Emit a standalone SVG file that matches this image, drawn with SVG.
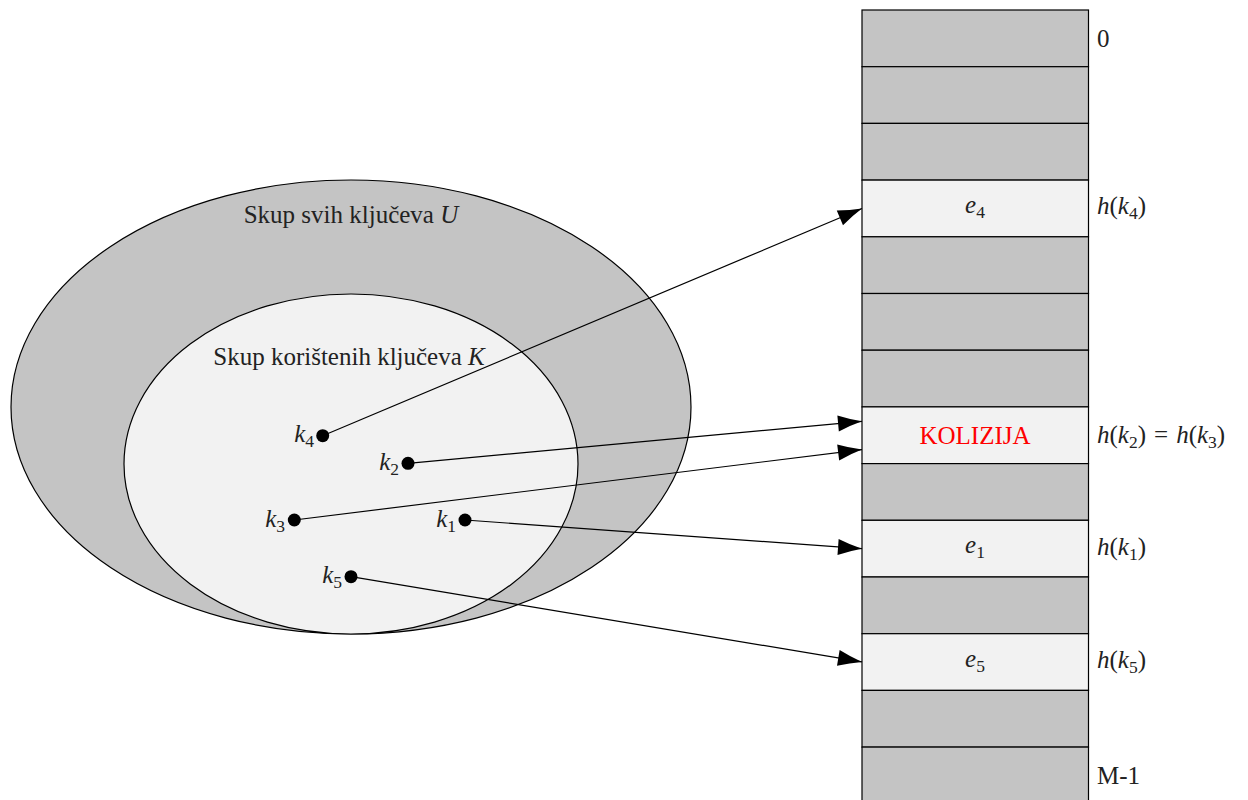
<svg xmlns="http://www.w3.org/2000/svg" width="1248" height="800" viewBox="0 0 1248 800">
<style>
text{font-family:'Liberation Serif',serif;font-size:25px;fill:#222}
.m{font-style:italic}
.s{font-size:17.5px;font-style:normal}
.g{fill:#c4c4c4;stroke:#000;stroke-width:1.2}
.l{fill:#f2f2f2;stroke:#000;stroke-width:1.2}
.c{stroke:#000;stroke-width:1.2;fill:none;marker-end:url(#ah)}
.mid{text-anchor:middle}
.end{text-anchor:end}
</style>
<defs>
<marker id="ah" markerUnits="userSpaceOnUse" markerWidth="30" markerHeight="20" refX="24" refY="8" orient="auto" overflow="visible">
<path d="M0,0 Q12,5 24,8 Q12,11 0,16 Z" fill="#000"/>
</marker>
</defs>
<g id="universe">
<ellipse class="g" cx="351" cy="407" rx="340" ry="227"/>
<text x="351" y="223" class="mid">Skup svih ključeva <tspan class="m">U</tspan></text>
</g>
<g id="used">
<ellipse class="l" cx="351" cy="464" rx="227" ry="170"/>
<text x="349" y="365" class="mid">Skup korištenih ključeva <tspan class="m">K</tspan></text>
</g>
<g id="table">
<rect class="g" x="862" y="10" width="226.5" height="56.7"/>
<rect class="g" x="862" y="66.7" width="226.5" height="56.7"/>
<rect class="g" x="862" y="123.4" width="226.5" height="56.7"/>
<rect class="l" x="862" y="180.1" width="226.5" height="56.7"/>
<rect class="g" x="862" y="236.8" width="226.5" height="56.7"/>
<rect class="g" x="862" y="293.5" width="226.5" height="56.7"/>
<rect class="g" x="862" y="350.2" width="226.5" height="56.7"/>
<rect class="l" x="862" y="406.9" width="226.5" height="56.7"/>
<rect class="g" x="862" y="463.6" width="226.5" height="56.7"/>
<rect class="l" x="862" y="520.3" width="226.5" height="56.7"/>
<rect class="g" x="862" y="577" width="226.5" height="56.7"/>
<rect class="l" x="862" y="633.7" width="226.5" height="56.7"/>
<rect class="g" x="862" y="690.4" width="226.5" height="56.7"/>
<rect class="g" x="862" y="747.1" width="226.5" height="56.7"/>
<text x="975" y="213" class="mid"><tspan class="m">e</tspan><tspan class="s" dy="5">4</tspan></text>
<text x="975" y="444" class="mid" style="fill:#ff0000">KOLIZIJA</text>
<text x="975" y="553" class="mid"><tspan class="m">e</tspan><tspan class="s" dy="5">1</tspan></text>
<text x="975" y="667" class="mid"><tspan class="m">e</tspan><tspan class="s" dy="5">5</tspan></text>
<text x="1097" y="47">0</text>
<text x="1097" y="214"><tspan class="m">h</tspan>(<tspan class="m">k</tspan><tspan class="s" dy="5">4</tspan><tspan dy="-5">)</tspan></text>
<text x="1097" y="443"><tspan class="m">h</tspan>(<tspan class="m">k</tspan><tspan class="s" dy="5">2</tspan><tspan dy="-5">)</tspan><tspan dx="8">=</tspan><tspan dx="8" class="m">h</tspan>(<tspan class="m">k</tspan><tspan class="s" dy="5">3</tspan><tspan dy="-5">)</tspan></text>
<text x="1097" y="555"><tspan class="m">h</tspan>(<tspan class="m">k</tspan><tspan class="s" dy="5">1</tspan><tspan dy="-5">)</tspan></text>
<text x="1097" y="668"><tspan class="m">h</tspan>(<tspan class="m">k</tspan><tspan class="s" dy="5">5</tspan><tspan dy="-5">)</tspan></text>
<text x="1097" y="784">M-1</text>
</g>
<g id="connectors">
<line class="c" x1="322.7" y1="435.7" x2="862" y2="208.5"/>
<line class="c" x1="408" y1="463.3" x2="862" y2="421.3"/>
<line class="c" x1="294.3" y1="520" x2="862" y2="449.6"/>
<line class="c" x1="465" y1="520" x2="862" y2="548.7"/>
<line class="c" x1="351" y1="576.7" x2="862" y2="661.9"/>
</g>
<g id="k4"><circle cx="322.7" cy="435.7" r="6.5"/><text x="314" y="442" class="end"><tspan class="m">k</tspan><tspan class="s" dy="5">4</tspan></text></g>
<g id="k2"><circle cx="408" cy="463.3" r="6.5"/><text x="399" y="470" class="end"><tspan class="m">k</tspan><tspan class="s" dy="5">2</tspan></text></g>
<g id="k3"><circle cx="294.3" cy="520" r="6.5"/><text x="285" y="527" class="end"><tspan class="m">k</tspan><tspan class="s" dy="5">3</tspan></text></g>
<g id="k1"><circle cx="465" cy="520" r="6.5"/><text x="456" y="527" class="end"><tspan class="m">k</tspan><tspan class="s" dy="5">1</tspan></text></g>
<g id="k5"><circle cx="351" cy="576.7" r="6.5"/><text x="342" y="583" class="end"><tspan class="m">k</tspan><tspan class="s" dy="5">5</tspan></text></g>
</svg>
